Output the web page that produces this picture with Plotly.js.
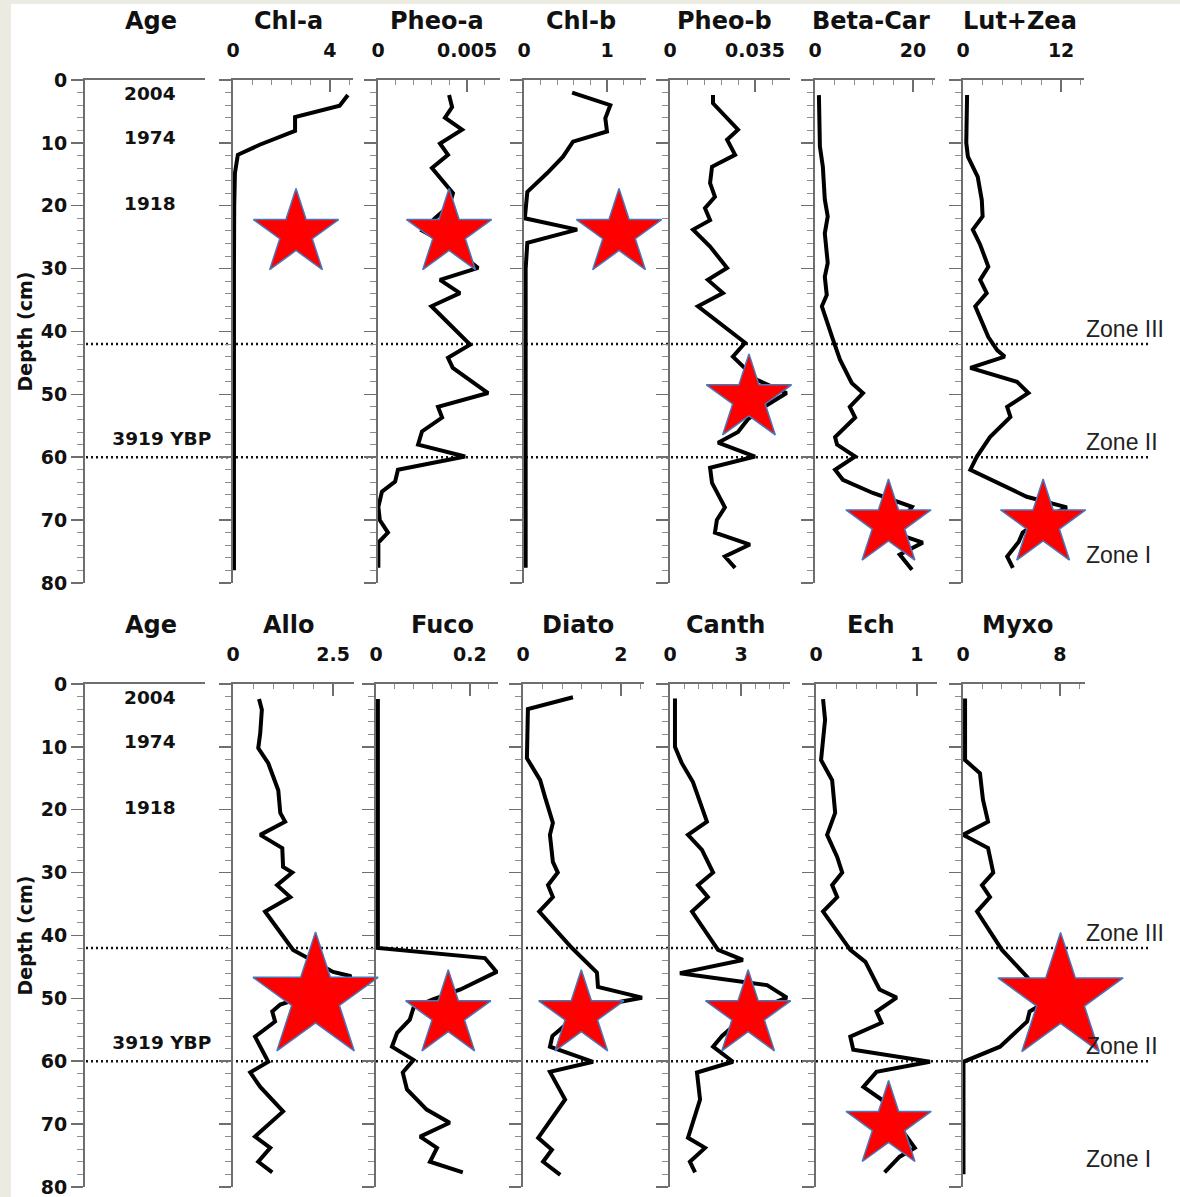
<!DOCTYPE html>
<html><head><meta charset="utf-8">
<script src="https://cdn.plot.ly/plotly-3.0.1.min.js"></script>
<style>html,body{margin:0;padding:0;background:#fff}#chart{width:1180px;height:1197px}</style>
</head><body><div id="chart"></div>
<script>
// ---------------- DATA ----------------
const ageLabels = ['2004', '1974', '1918', '3919 YBP'];
const ageDepths = [2.4, 9.5, 19.9, 57.4];
const zoneBoundaries = [42, 60];
const zoneLabels = ['Zone III', 'Zone II', 'Zone I'];
const zoneLabelDepths = [39.6, 57.6, 75.5];

const topPigments = ['Chl-a', 'Pheo-a', 'Chl-b', 'Pheo-b', 'Beta-Car', 'Lut+Zea'];
const topTickVals = [4, 0.005, 1, 0.035, 20, 12];
const topTickText = ['4', '0.005', '1', '0.035', '20', '12'];
const bottomPigments = ['Allo', 'Fuco', 'Diato', 'Canth', 'Ech', 'Myxo'];
const bottomTickVals = [2.5, 0.2, 2, 3, 1, 8];
const bottomTickText = ['2.5', '0.2', '2', '3', '1', '8'];
const depthTicks = [0, 10, 20, 30, 40, 50, 60, 70, 80];

const chlaDepth = [2.4, 4.1, 5.9, 8.1, 10.3, 11.9, 14.8, 20, 30, 40, 50, 60, 70, 78];
const chlaVal = [4.74, 4.4, 2.56, 2.56, 1.1, 0.2, 0.08, 0.05, 0.04, 0.04, 0.04, 0.04, 0.04, 0.04];

const pheoaDepth = [2.4, 4.3, 6.0, 7.9, 10.1, 11.9, 14.0, 18.0, 20, 22, 24, 26, 28, 29.9, 31.8, 33.9, 36.0, 42.1, 44.2, 45.8, 49.8, 52.0, 53.7, 55.9, 58.0, 59.9, 62.0, 63.9, 65.5, 67.9, 70.0, 72.0, 73.6, 77.6];
const pheoaVal = [0.00399, 0.00416, 0.00376, 0.00472, 0.00348, 0.00393, 0.00303, 0.00421, 0.0040, 0.0032, 0.0025, 0.0038, 0.0048, 0.00562, 0.00348, 0.0046, 0.0030, 0.00517, 0.00393, 0.0042, 0.00618, 0.00337, 0.0036, 0.00247, 0.00225, 0.00489, 0.00112, 0.00096, 0.00022, 0.00002, 0.0001, 0.00056, 0.00002, 0.00002];

const chlbDepth = [2.0, 4.0, 6.1, 8.2, 9.8, 12.2, 14.8, 17.8, 22.0, 23.8, 25.9, 30, 40, 50, 60, 70, 77.6];
const chlbVal = [0.58, 1.04, 0.98, 1.0, 0.59, 0.47, 0.28, 0.04, 0.01, 0.64, 0.04, 0.02, 0.02, 0.02, 0.02, 0.02, 0.02];

const pheobDepth = [2.4, 3.7, 7.9, 9.5, 11.9, 13.8, 16.4, 18.6, 20.4, 22.3, 23.8, 26.5, 29.9, 31.8, 33.9, 36.0, 41.8, 44.0, 47.7, 49.8, 51.7, 54, 56, 57.7, 59.9, 61.7, 64.1, 68, 70, 72, 73.9, 75.8, 77.6];
const pheobVal = [0.0177, 0.0177, 0.0280, 0.0235, 0.0268, 0.0173, 0.0165, 0.0185, 0.0144, 0.0165, 0.0095, 0.0165, 0.0235, 0.0156, 0.0218, 0.0115, 0.0309, 0.0259, 0.0358, 0.0480, 0.0400, 0.0320, 0.0280, 0.0198, 0.0350, 0.0165, 0.0173, 0.0226, 0.0193, 0.0185, 0.0329, 0.0226, 0.0268];

const betaDepth = [2.4, 10.6, 13.8, 19.0, 21.7, 24.4, 29.1, 31.3, 34.2, 36.0, 40.9, 44.5, 48.2, 49.8, 52.0, 53.7, 56.8, 58.0, 59.9, 62.0, 63.6, 65.7, 67.9, 70, 72, 73.6, 75.5, 77.9];
const betaVal = [0.8, 1.0, 1.6, 2.0, 2.6, 2.0, 2.6, 2.0, 2.4, 1.4, 3.5, 5.1, 7.5, 9.8, 7.1, 8.2, 4.1, 4.5, 8.2, 4.1, 5.7, 11.8, 19.8, 18, 16, 22, 17.3, 19.8];

const lutDepth = [2.4, 10.0, 12.2, 15.4, 19.1, 21.7, 23.8, 26.2, 29.7, 31.8, 33.9, 36.0, 40.9, 43.0, 44.0, 45.8, 48.0, 49.8, 52.0, 53.6, 56.8, 59.9, 62.0, 66.3, 68.0, 70, 72, 73.5, 75.8, 77.6];
const lutVal = [0.5, 0.4, 0.6, 1.8, 2.3, 2.4, 1.2, 2.1, 3.1, 2.1, 2.9, 1.5, 3.1, 4.2, 5.1, 0.9, 6.6, 8.0, 5.4, 5.8, 3.3, 1.7, 0.9, 7.8, 12.7, 9.5, 7.3, 6.8, 5.4, 6.1];

const alloDepth = [2.4, 4.1, 7.8, 10.2, 12.6, 16.9, 20.5, 21.9, 24.0, 26.1, 29.1, 30.0, 32.0, 33.9, 36.2, 42.3, 45.8, 46.5, 48, 50, 51.0, 52.1, 53.7, 56.1, 58.2, 60.1, 61.8, 64.1, 68.0, 72.0, 73.8, 76.0, 77.7];
const alloVal = [0.65, 0.72, 0.68, 0.63, 0.88, 1.13, 1.18, 1.3, 0.68, 1.23, 1.25, 1.48, 1.1, 1.43, 0.8, 1.5, 2.5, 2.95, 2.6, 1.6, 1.18, 0.98, 1.05, 0.55, 0.72, 0.88, 0.43, 0.68, 1.25, 0.55, 0.93, 0.63, 0.98];

const fucoDepth = [2.4, 10, 20, 30, 42.0, 43.6, 45.8, 48.6, 50.2, 51.5, 53.4, 55.5, 57.7, 59.8, 61.8, 64.5, 67.7, 69.8, 72.0, 73.8, 76.0, 77.7];
const fucoVal = [0.004, 0.004, 0.004, 0.004, 0.004, 0.232, 0.257, 0.18, 0.12, 0.08, 0.072, 0.045, 0.034, 0.08, 0.057, 0.066, 0.108, 0.157, 0.094, 0.13, 0.115, 0.185];

const diatoDepth = [2.1, 4.0, 11.8, 15.3, 18.0, 22.1, 24.0, 28.3, 30.0, 32.0, 33.9, 36.2, 42.0, 45.9, 48.2, 49.9, 52, 54, 56, 57.7, 60.1, 61.7, 66.1, 72.2, 74.1, 76.0, 78.1];
const diatoVal = [1.02, 0.1, 0.08, 0.35, 0.45, 0.61, 0.55, 0.61, 0.71, 0.51, 0.61, 0.33, 1.0, 1.51, 1.53, 2.43, 1.0, 0.9, 0.6, 0.55, 1.43, 0.55, 0.86, 0.31, 0.59, 0.41, 0.76];

const canthDepth = [2.3, 10.0, 12.6, 15.6, 21.9, 24.0, 26.4, 30.0, 32.0, 33.9, 36.2, 42.3, 43.9, 46.0, 47.9, 49.9, 52, 54, 56, 57.7, 60.1, 61.8, 66.1, 72.2, 73.8, 76.0, 77.7];
const canthVal = [0.21, 0.21, 0.5, 0.97, 1.56, 0.76, 1.35, 1.82, 1.18, 1.6, 0.93, 2.03, 3.08, 0.42, 4.1, 4.94, 3.5, 2.8, 2.2, 1.82, 2.66, 1.14, 1.27, 0.76, 1.48, 0.84, 1.06];

const echDepth = [2.4, 5.7, 12.1, 15.3, 20.5, 24.0, 27.5, 30.0, 32.0, 33.9, 36.2, 42.3, 44.2, 48.6, 49.9, 52.1, 53.9, 56.1, 58.2, 60.1, 61.7, 64.1, 66.1, 68, 70, 72, 73.8, 75.2, 77.7];
const echVal = [0.07, 0.09, 0.05, 0.16, 0.19, 0.11, 0.21, 0.26, 0.16, 0.21, 0.07, 0.34, 0.49, 0.63, 0.8, 0.6, 0.65, 0.34, 0.37, 1.13, 0.6, 0.47, 0.65, 0.72, 0.8, 0.9, 0.98, 0.83, 0.68];

const myxoDepth = [2.3, 12.1, 14.2, 18.4, 21.9, 24.0, 26.1, 30.0, 32.0, 33.9, 36.2, 42.3, 46.6, 48, 50, 51.4, 52.1, 53.7, 57.7, 60.1, 65, 70, 78];
const myxoVal = [0.17, 0.17, 1.4, 1.65, 2.07, 0.0, 2.07, 2.5, 1.57, 2.23, 1.16, 3.22, 5.3, 5.8, 6.3, 6.1, 5.5, 5.3, 3.06, 0.04, 0.04, 0.04, 0.04];

// highlighted stars: panel index (0-11), value, depth
const starPanel = [0, 1, 2, 3, 4, 5, 6, 7, 8, 9, 10, 11];
const starValue = [2.6, 0.00399, 1.145, 0.0325, 15.0, 9.8, 2.06, 0.154, 1.19, 3.3, 0.72, 8.06];
const starDepth = [24.4, 24.4, 24.4, 50.7, 70.6, 70.6, 49.9, 52.6, 52.6, 52.6, 70.2, 50.0];

const seriesDepth = [chlaDepth, pheoaDepth, chlbDepth, pheobDepth, betaDepth, lutDepth, alloDepth, fucoDepth, diatoDepth, canthDepth, echDepth, myxoDepth];
const seriesVal = [chlaVal, pheoaVal, chlbVal, pheobVal, betaVal, lutVal, alloVal, fucoVal, diatoVal, canthVal, echVal, myxoVal];

// ---------------- LAYOUT (pixel geometry & style) ----------------
const W = 1180, H = 1197;
const rowPx = [[80, 583], [684, 1187]];
const colPx = [
  [[85, 205], [233, 353], [378, 500], [524, 646], [670, 790], [815, 935], [963, 1084]],
  [[85, 205], [233, 354], [376, 498], [523, 644], [670, 790], [816, 937], [963, 1085]]
];
const axisMax = [[4.95, 0.00685, 1.47, 0.0494, 24.5, 14.8], [3.02, 0.26, 2.47, 5.07, 1.2, 10.08]];
const titleX = [[151, 288, 437, 581, 724, 871, 1020], [151, 289, 442, 578, 725, 871, 1018]];
const titleY = [21, 625];
const starSize = [64, 64, 64, 64, 64, 64, 94, 64, 64, 64, 64, 94];
const zoneLabelLeftPx = 1084;

const BOLD = {family: 'DejaVu Sans', weight: 'bold', color: '#111'};
const AXC = '#6e6e6e';

const layout = {
  width: W, height: H,
  margin: {l: 0, r: 0, t: 0, b: 0},
  paper_bgcolor: '#ffffff', plot_bgcolor: 'rgba(0,0,0,0)',
  showlegend: false, shapes: [], annotations: []
};
const traces = [];

function axNum(r, c) { return r * 7 + c + 1; }
function sfx(n) { return n === 1 ? '' : String(n); }

for (let r = 0; r < 2; r++) {
  const names = r === 0 ? ['Age'].concat(topPigments) : ['Age'].concat(bottomPigments);
  const tv = r === 0 ? topTickVals : bottomTickVals;
  const tt = r === 0 ? topTickText : bottomTickText;
  for (let c = 0; c < 7; c++) {
    const n = axNum(r, c);
    const px = colPx[r][c];
    const xa = {
      domain: [px[0] / W, px[1] / W], anchor: 'y' + sfx(n), side: 'top',
      showline: true, linecolor: AXC, linewidth: 2, showgrid: false, zeroline: false,
      fixedrange: true
    };
    if (c === 0) {
      Object.assign(xa, {range: [0, 1], ticks: '', showticklabels: false});
    } else {
      const mx = axisMax[r][c - 1];
      const maj = tv[c - 1];
      Object.assign(xa, {
        range: [0, mx], tickmode: 'array', tickvals: [0, maj], ticktext: ['0', tt[c - 1]],
        ticks: 'inside', ticklen: 12, tickwidth: 1.5, tickcolor: AXC,
        minor: {tickmode: 'linear', tick0: 0, dtick: maj / 5, ticks: 'inside', ticklen: 5, tickwidth: 1, tickcolor: '#8c8c8c'},
        tickfont: Object.assign({size: 19}, BOLD), ticklabelstandoff: 13, ticklabeloverflow: 'allow'
      });
    }
    const ya = {
      domain: [1 - rowPx[r][1] / H, 1 - rowPx[r][0] / H], anchor: 'x' + sfx(n),
      range: [80.02, 0], showline: true, linecolor: AXC, linewidth: 2,
      showgrid: false, zeroline: false, fixedrange: true,
      tickmode: 'array', tickvals: depthTicks, ticks: 'outside', ticklen: 12, tickwidth: 1.5, tickcolor: AXC,
      minor: {tickmode: 'linear', tick0: 0, dtick: 2, ticks: 'outside', ticklen: 6, tickwidth: 1, tickcolor: '#8c8c8c'},
      showticklabels: c === 0, tickfont: Object.assign({size: 19}, BOLD), ticklabeloverflow: 'allow'
    };
    layout['xaxis' + sfx(n)] = xa;
    layout['yaxis' + sfx(n)] = ya;

    layout.annotations.push({
      xref: 'paper', yref: 'paper', x: titleX[r][c] / W, y: 1 - titleY[r] / H,
      xanchor: 'center', yanchor: 'middle', showarrow: false, text: names[c],
      font: Object.assign({size: 24}, BOLD)
    });

    if (c === 0) {
      traces.push({
        type: 'scatter', mode: 'text', x: ageDepths.map((d, i) => i === 3 ? 0.64 : 0.54), y: ageDepths,
        text: ageLabels, textposition: 'middle center', cliponaxis: false,
        textfont: Object.assign({size: 18.5}, BOLD), hoverinfo: 'skip',
        xaxis: 'x' + sfx(n), yaxis: 'y' + sfx(n)
      });
    } else {
      const k = r * 6 + (c - 1);
      traces.push({
        type: 'scatter', mode: 'lines', x: seriesVal[k], y: seriesDepth[k],
        line: {color: '#000', width: 4}, hoverinfo: 'skip',
        xaxis: 'x' + sfx(n), yaxis: 'y' + sfx(n)
      });
      const si = starPanel.indexOf(k);
      if (si >= 0) {
        traces.push({
          type: 'scatter', mode: 'markers', x: [starValue[si]], y: [starDepth[si]], cliponaxis: false,
          marker: {symbol: 'star', size: starSize[si], color: '#ff0000', line: {color: '#4a76b8', width: 1.5}},
          hoverinfo: 'skip', xaxis: 'x' + sfx(n), yaxis: 'y' + sfx(n)
        });
      }
    }
  }
  // zone labels
  zoneLabels.forEach((lab, i) => {
    layout.annotations.push({
      xref: 'paper', yref: 'y' + sfx(axNum(r, 0)), x: zoneLabelLeftPx / W, y: zoneLabelDepths[i],
      xanchor: 'left', yanchor: 'middle', showarrow: false, text: lab,
      font: {family: 'Liberation Sans', size: 23, color: '#222'}
    });
  });
  // depth axis title
  layout.annotations.push({
    xref: 'paper', yref: 'paper', x: 24 / W, y: 1 - (rowPx[r][0] + rowPx[r][1]) / 2 / H,
    xanchor: 'center', yanchor: 'middle', textangle: -90, showarrow: false,
    text: 'Depth (cm)', font: Object.assign({size: 19}, BOLD)
  });
  // zone boundaries
  zoneBoundaries.forEach(z => {
    layout.shapes.push({
      type: 'line', xref: 'paper', yref: 'y' + sfx(axNum(r, 0)), x0: 86 / W, x1: 1150 / W, y0: z, y1: z,
      line: {color: '#111', width: 2.5, dash: '2px,3px'}, layer: 'below'
    });
  });
}
// beige frame strips
layout.shapes.push({type: 'rect', xref: 'paper', yref: 'paper', x0: 0, x1: 11 / W, y0: 0, y1: 1, fillcolor: '#ecebe1', line: {width: 0}, layer: 'below'});
layout.shapes.push({type: 'rect', xref: 'paper', yref: 'paper', x0: 0, x1: 1, y0: 1 - 4 / H, y1: 1, fillcolor: '#ecebe1', line: {width: 0}, layer: 'below'});

Plotly.newPlot('chart', traces, layout, {displayModeBar: false, staticPlot: true});
</script></body></html>
